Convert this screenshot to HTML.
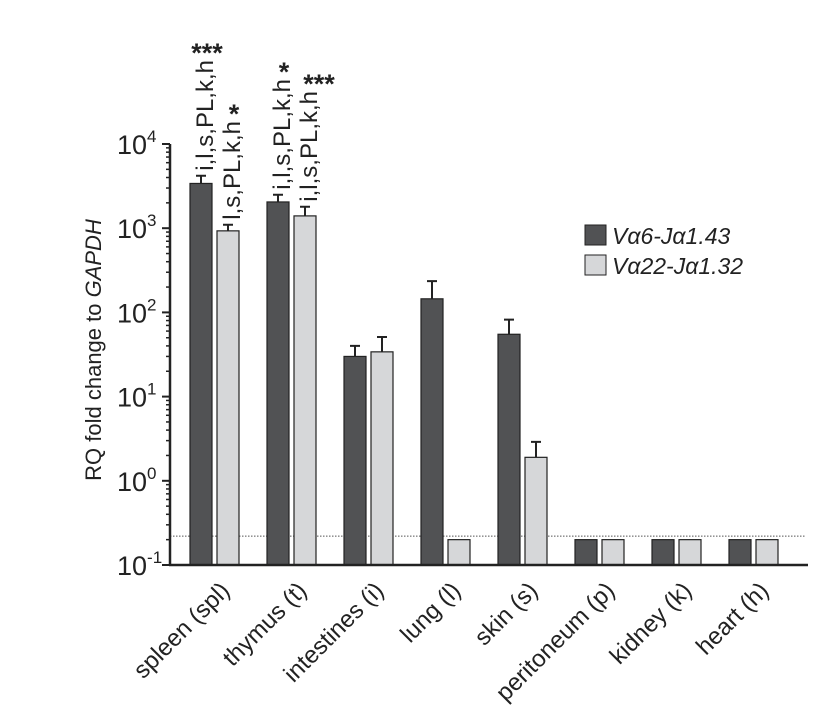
<!DOCTYPE html>
<html><head><meta charset="utf-8"><style>
body{margin:0;background:#fff;}
svg{display:block;font-family:"Liberation Sans",sans-serif;}
</style></head><body>
<svg id="chart" width="835" height="714" viewBox="0 0 835 714">
<g id="plot"></g>
</svg>
<script>
const categories=["spleen (spl)","thymus (t)","intestines (i)","lung (l)","skin (s)","peritoneum (p)","kidney (k)","heart (h)"];
const seriesA=[3400,2050,30,145,55,0.2,0.2,0.2];
const errA=[4200,2500,40,235,82,null,null,null];
const seriesB=[930,1400,34,0.2,1.9,0.2,0.2,0.2];
const errB=[1100,1800,51,null,2.9,null,null,null];
const sigA=["i,l,s,PL,k,h","i,l,s,PL,k,h","","","","","",""];
const starsA=["***","*","","","","","",""];
const sigB=["l,s,PL,k,h","i,l,s,PL,k,h","","","","","",""];
const starsB=["*","***","","","","","",""];
const yTicks=[-1,0,1,2,3,4];
const threshold=0.22;

const NS="http://www.w3.org/2000/svg";
const g=document.getElementById('plot');
function el(t,a,txt){const e=document.createElementNS(NS,t);for(const k in a)e.setAttribute(k,a[k]);if(txt!==undefined)e.textContent=txt;g.appendChild(e);return e;}
const x0=170,x1=808,yBase=565,dec=84.2;
function y(v){return yBase-(Math.log10(v)+1)*dec;}
function gx(i){return 201+i*77;}
let e=el('line',{x1:x0,x2:x1-2,y1:y(threshold),y2:y(threshold),stroke:'#555','stroke-width':1,'stroke-dasharray':'1.5,1.5'});


for(let i=0;i<categories.length;i++){
  const cx=gx(i);
  [[seriesA,errA,'#515254',cx,sigA,starsA,'a'],[seriesB,errB,'#d6d7d9',cx+27,sigB,starsB,'b']].forEach(([s,er,col,c,sig,st,k])=>{
    const top=y(s[i]);
    if(er[i]){
      const ey=y(er[i]);
      e=el('path',{d:`M${c},${top}V${ey}M${c-5},${ey}H${c+5}`,stroke:'#222','stroke-width':2,fill:'none'});
      
      
    }
    e=el('rect',{x:c-11,y:top,width:22,height:yBase-top,fill:col,stroke:'#222','stroke-width':1.2});
    
    
    if(sig[i]){
      const by=y(er[i]||s[i])-5;
      e=el('text',{transform:`translate(${c+12},${by}) rotate(-90)`,'font-size':24,fill:'#222'},sig[i]);
      
      
      const len=e.getComputedTextLength();
      e=el('text',{x:c+(k==='b'&&i===1?14:6),y:by-len+2,'font-size':27,'font-weight':'bold','text-anchor':'middle',fill:'#222'},st[i]);
      
      
    }
  });
  e=el('text',{transform:`translate(${cx+30},${592}) rotate(-45)`,'font-size':24,'text-anchor':'end',fill:'#222'},categories[i]);
  
  
}
e=el('line',{x1:x0,x2:x0,y1:y(10000),y2:yBase,stroke:'#222','stroke-width':2.5});


e=el('line',{x1:x0-1,x2:x1,y1:yBase,y2:yBase,stroke:'#222','stroke-width':2.5});


yTicks.forEach(p=>{
  const ty=y(Math.pow(10,p));
  el('line',{x1:x0-8,x2:x0,y1:ty,y2:ty,stroke:'#222','stroke-width':2});
  if(p<4)for(let m=2;m<10;m++){const my=y(m*Math.pow(10,p));el('line',{x1:x0-4,x2:x0,y1:my,y2:my,stroke:'#222','stroke-width':1.5});}
  e=el('text',{x:117,y:ty+10,'font-size':27,fill:'#222'});
  
  
  const t1=document.createElementNS(NS,'tspan');t1.textContent='10';e.appendChild(t1);
  const t2=document.createElementNS(NS,'tspan');t2.textContent=String(p);t2.setAttribute('dy','-12');t2.setAttribute('font-size','17');e.appendChild(t2);
});
e=el('text',{transform:'translate(101,350) rotate(-90)','font-size':22,'text-anchor':'middle',fill:'#222'});


e.innerHTML='RQ fold change to <tspan font-style="italic">GAPDH</tspan>';
[['#515254','Vα6-Jα1.43',225],['#d6d7d9','Vα22-Jα1.32',255]].forEach(([c,l,ly],i)=>{
  e=el('rect',{x:585,y:ly,width:21,height:20,fill:c,stroke:'#222','stroke-width':1});
  
  
  e=el('text',{x:612,y:ly+19,'font-size':23,'font-style':'italic',fill:'#222'},l);
  
  
});
</script>
</body></html>
